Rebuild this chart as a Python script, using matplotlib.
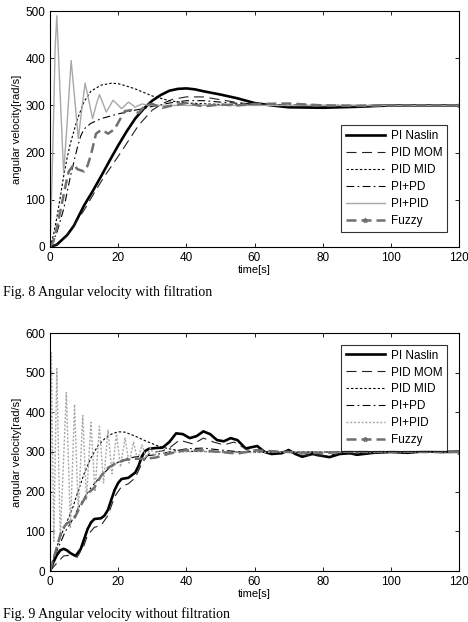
import matplotlib
matplotlib.use("Agg")
import matplotlib.pyplot as plt

# ---- Fig. 8 (with filtration) ----
t8_naslin = [0, 2, 5, 7, 10, 12.5, 15, 17.5, 20, 22.5, 25, 27.5, 30, 32.5, 35, 37.5, 40, 42.5, 45, 50, 55, 60, 65, 70, 80, 90, 100, 120]
v8_naslin = [0, 5, 25, 45, 88, 118, 150, 183, 215, 245, 272, 293, 310, 322, 331, 335, 336, 334, 330, 323, 315, 305, 300, 296, 295, 297, 300, 300]

t8_mom = [0, 3, 6, 10, 13, 16, 20, 23, 26, 30, 33, 36, 40, 45, 50, 55, 60, 70, 80, 100, 120]
v8_mom = [0, 8, 35, 78, 115, 150, 192, 225, 258, 290, 304, 313, 318, 318, 312, 306, 302, 298, 298, 300, 300]

t8_mid = [0, 1, 2, 3, 4, 5, 6, 8, 10, 12, 15, 18, 20, 22, 25, 30, 35, 40, 50, 60, 120]
v8_mid = [0, 25, 62, 105, 150, 188, 220, 270, 308, 330, 343, 347, 346, 342, 335, 320, 310, 305, 302, 300, 300]

t8_pipd = [0, 2, 4, 6, 8, 9, 10, 12, 15, 18, 20, 25, 28, 30, 35, 40, 45, 50, 60, 80, 120]
v8_pipd = [0, 30, 80, 150, 210, 235, 250, 262, 272, 278, 282, 290, 294, 298, 305, 310, 310, 307, 302, 300, 300]

t8_pipid = [0, 0.5, 1, 1.5, 2, 3, 4, 5, 6.2, 7.3, 8.3, 9.3, 10.3, 11.4, 12.5, 13.5, 14.5, 15.5, 16.5, 17.5, 18.5, 19.8, 21, 22, 23, 24, 25, 26, 27, 29, 32, 40, 60, 120]
v8_pipid = [0, 120, 260, 420, 490, 320, 157, 260, 395, 310, 230, 290, 347, 310, 272, 300, 323, 305, 286, 298, 311, 302, 293, 300, 307, 302, 296, 300, 303, 300, 300, 300, 300, 300]

t8_fuzzy = [0, 1, 2, 3, 4, 5, 5.5, 7, 8, 10, 11, 12, 13.5, 15, 16, 17, 19, 20.5, 22, 24, 26, 28, 30, 33, 36, 40, 45, 50, 55, 60, 70, 80, 90, 100, 120]
v8_fuzzy = [0, 12, 40, 75, 110, 145, 160, 175, 165, 160, 172, 195, 240, 248, 245, 240, 250, 270, 288, 290, 284, 300, 303, 295, 300, 305, 298, 302, 300, 303, 304, 300, 299, 300, 300]

# ---- Fig. 9 (without filtration) ----
t9_naslin = [0, 1, 2, 3, 4, 5, 6, 7.5, 9, 10, 11, 12, 13, 15, 16, 17, 18, 19, 20, 21, 23, 25, 26, 27, 28, 29, 31, 33, 35, 37, 39, 41, 43, 45, 47, 49, 51, 53, 55, 57.4, 60.8, 63, 65, 68, 70, 72, 74, 77, 80, 82, 85, 88, 90, 95, 100, 105, 110, 115, 120]
v9_naslin = [0, 22, 40, 52, 56, 52, 45, 38, 55, 80, 105, 122, 131, 133, 140, 154, 180, 205, 222, 232, 235, 248, 265, 290, 303, 308, 310, 311, 325, 347, 345, 335, 340, 352, 345, 330, 327, 335, 330, 309, 315, 300, 295, 297, 305, 295, 288, 295, 290, 287, 295, 297, 293, 298, 300, 298, 302, 300, 301]

t9_mom = [0, 2, 4, 6, 8, 10, 11, 13, 15, 17, 19, 21, 23, 25, 27, 29, 31, 33, 35, 38, 40, 42, 45, 48, 51, 54, 58, 62, 66, 70, 74, 80, 85, 90, 100, 110, 120]
v9_mom = [0, 20, 38, 40, 35, 65, 90, 110, 115, 140, 188, 213, 220, 235, 272, 295, 300, 303, 310, 330, 325, 320, 335, 325, 318, 325, 305, 305, 298, 302, 292, 290, 296, 295, 300, 300, 300]

t9_mid = [0, 1, 2, 3, 5, 6.5, 8, 10, 12, 14, 16, 18, 20, 22, 25, 28, 32, 36, 40, 50, 60, 80, 100, 120]
v9_mid = [0, 30, 60, 85, 125, 155, 195, 245, 285, 315, 333, 345, 351, 350, 340, 328, 314, 306, 302, 300, 300, 300, 301, 300]

t9_pipd = [0, 1.5, 3, 4.5, 6, 9, 12, 15, 18, 22, 26, 30, 35, 40, 45, 50, 55, 60, 70, 80, 100, 120]
v9_pipd = [0, 40, 70, 100, 120, 170, 210, 240, 265, 283, 289, 292, 300, 308, 310, 305, 301, 300, 299, 300, 300, 300]

t9_pipid = [0, 0.4, 1.1, 2, 3, 4.8, 6, 7.2, 8.3, 9.6, 10.7, 12, 13.2, 14.5, 15.7, 17, 18.2, 19.5, 20.7, 22, 23.2, 24.5, 25.7, 27, 28.2, 29.5, 30.7, 32, 34, 38, 45, 55, 70, 90, 120]
v9_pipid = [0, 550, 75, 510, 80, 450, 110, 420, 150, 392, 180, 375, 200, 365, 222, 355, 245, 345, 262, 335, 272, 325, 280, 318, 286, 310, 290, 305, 298, 300, 302, 298, 300, 300, 300]

t9_fuzzy = [0, 1, 2, 3, 4, 5, 7, 9, 11, 13, 15, 17, 19, 22, 25, 28, 31, 35, 40, 45, 50, 55, 60, 65, 70, 75, 80, 85, 90, 95, 100, 110, 120]
v9_fuzzy = [0, 30, 60, 90, 110, 120, 130, 165, 195, 210, 240, 260, 270, 280, 283, 283, 286, 296, 305, 304, 300, 296, 304, 302, 300, 298, 297, 300, 302, 300, 301, 300, 300]

labels = ["PI Naslin", "PID MOM", "PID MID", "PI+PD", "PI+PID", "Fuzzy"]

plt.rcParams["font.family"] = ["Liberation Sans", "DejaVu Sans"]

fig = plt.figure(figsize=(4.68, 6.22), dpi=100)
ax1 = fig.add_axes([50/468, 1-247/622, 409/468, 236/622])
ax2 = fig.add_axes([50/468, 1-571/622, 409/468, 238/622])


def draw(ax, d, pipid_style):
    (tn, vn), (tm, vm), (tmi, vmi), (tp, vp), (tpp, vpp), (tf, vf) = d
    ax.plot(tn, vn, color="black", lw=1.9, label=labels[0])
    ax.plot(tm, vm, color="#222222", lw=0.8, dashes=(9, 5), label=labels[1])
    ax.plot(tmi, vmi, color="black", lw=0.8, dashes=(2.2, 1.8), label=labels[2])
    ax.plot(tp, vp, color="black", lw=0.8, dashes=(7, 3, 1.5, 3), label=labels[3])
    if pipid_style == "solid":
        ax.plot(tpp, vpp, color="#a8a8a8", lw=1.0, label=labels[4])
    else:
        ax.plot(tpp, vpp, color="#a8a8a8", lw=1.0, dashes=(1.5, 1.2), label=labels[4])
    ax.plot(tf, vf, color="#707070", lw=1.8, dashes=(4, 2), marker="*", markersize=3.5,
            markevery=[len(tf) - 1], label=labels[5])
    ax.set_xlim(0, 120)
    ax.set_xticks(range(0, 121, 20))
    ax.tick_params(direction="in", top=True, right=True, labelsize=8.5, length=3, width=0.6)
    for s in ax.spines.values():
        s.set_linewidth(0.8)
    ax.set_xlabel("time[s]", fontsize=8, labelpad=1)
    ax.set_ylabel("angular velocity[rad/s]", fontsize=8, labelpad=2)


def add_legend(ax, **kw):
    leg = ax.legend(fontsize=8.5, frameon=True, fancybox=False, edgecolor="black",
                    handlelength=3.3, labelspacing=0.42, borderpad=0.4,
                    handletextpad=0.5, **kw)
    leg.get_frame().set_linewidth(0.8)


draw(ax1, [(t8_naslin, v8_naslin), (t8_mom, v8_mom), (t8_mid, v8_mid),
           (t8_pipd, v8_pipd), (t8_pipid, v8_pipid), (t8_fuzzy, v8_fuzzy)], "solid")
ax1.set_ylim(0, 500)
ax1.set_yticks(range(0, 501, 100))
add_legend(ax1, loc="lower right", bbox_to_anchor=(0.985, 0.04))

draw(ax2, [(t9_naslin, v9_naslin), (t9_mom, v9_mom), (t9_mid, v9_mid),
           (t9_pipd, v9_pipd), (t9_pipid, v9_pipid), (t9_fuzzy, v9_fuzzy)], "dotted")
ax2.set_ylim(0, 600)
ax2.set_yticks(range(0, 601, 100))
add_legend(ax2, loc="upper right", bbox_to_anchor=(0.985, 0.975))

fig.text(3/468, 1-292/622, "Fig. 8 Angular velocity with filtration", family="Liberation Serif",
         fontsize=10, va="center", ha="left")
fig.text(3/468, 1-614/622, "Fig. 9 Angular velocity without filtration", family="Liberation Serif",
         fontsize=10, va="center", ha="left")

fig.savefig("out.png", dpi=100)
